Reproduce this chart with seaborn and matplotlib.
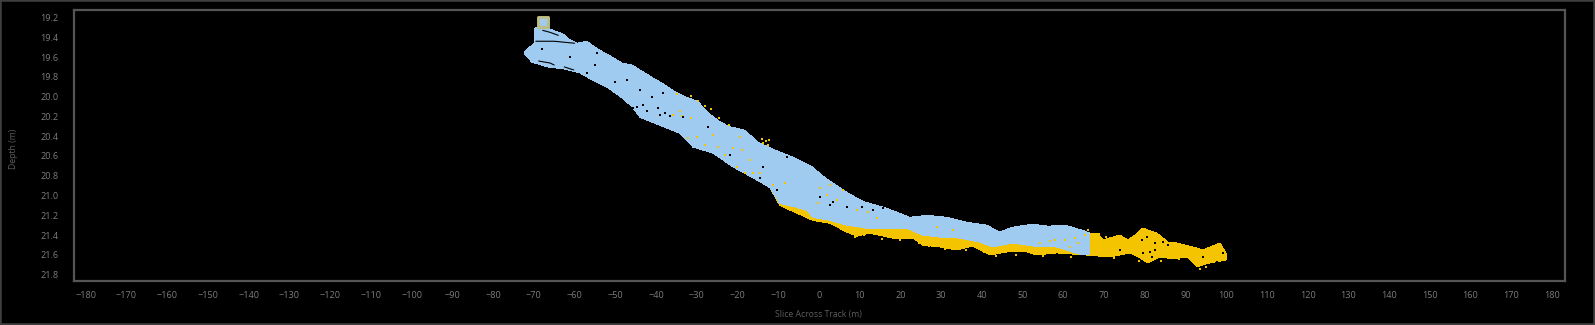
import matplotlib
matplotlib.use("Agg")
import matplotlib.pyplot as plt
from matplotlib.patches import Rectangle
import seaborn as sns

BLUE = "#A0CBF0"
YELLOW = "#F5C400"

# Upper and lower edges of the light-blue swath (metres across track, depth in metres)
blue_top_x = [-72.4, -71.0, -69.8, -69.7, -66.5, -62.7, -61.0, -59.4, -57.0, -54.3, -50.8, -48.4, -45.9, -43.2,
              -40.8, -38.3, -35.4, -32.9, -29.7, -27.3, -24.8, -22.3, -18.2, -15.0, -10.8, -6.6, -1.7,
              1.5, 6.9, 10.8, 16.7, 22.3, 26.5, 31.4, 36.3, 41.2, 44.4, 47.6, 52.5, 56.2, 60.4, 64.6, 66.5]
blue_top_d = [19.55, 19.50, 19.46, 19.30, 19.31, 19.37, 19.43, 19.46, 19.44, 19.52, 19.60, 19.66, 19.68, 19.75,
              19.81, 19.87, 19.95, 20.00, 20.05, 20.16, 20.24, 20.30, 20.34, 20.46, 20.54, 20.61, 20.71,
              20.82, 20.97, 21.06, 21.13, 21.22, 21.20, 21.22, 21.27, 21.30, 21.37, 21.32, 21.29, 21.31,
              21.30, 21.35, 21.38]
blue_bot_x = [-72.4, -70.5, -66.5, -62.4, -58.7, -55.7, -51.8, -48.4, -45.9, -43.9, -39.0, -34.1, -30.9,
              -26.0, -21.1, -16.2, -12.0, -9.6, -5.4, -2.9, -1.5, 2.7, 6.9, 11.8, 16.7, 21.6, 25.5, 29.7,
              34.6, 39.5, 42.7, 47.6, 52.5, 58.4, 64.6, 66.5]
blue_bot_d = [19.56, 19.65, 19.70, 19.72, 19.76, 19.83, 19.91, 20.01, 20.10, 20.21, 20.29, 20.37, 20.51,
              20.57, 20.71, 20.82, 20.92, 21.08, 21.12, 21.15, 21.22, 21.25, 21.30, 21.33, 21.33, 21.33,
              21.40, 21.42, 21.43, 21.47, 21.52, 21.48, 21.51, 21.52, 21.60, 21.60]

# Upper and lower edges of the yellow swath
yellow_top_x = [-12.0, 20.0, 40.0, 47.0, 60.0, 66.5, 68.5, 69.7, 73.9, 75.9, 77.6, 79.5, 83.0, 85.7, 87.9, 91.8,
                94.3, 98.5, 100.2]
yellow_top_d = [20.92, 21.25, 21.40, 21.45, 21.40, 21.38, 21.38, 21.45, 21.40, 21.45, 21.40, 21.33, 21.38, 21.47,
                21.48, 21.52, 21.55, 21.48, 21.60]
yellow_bot_x = [-9.6, -1.5, 2.7, 6.9, 9.3, 12.5, 18.2, 23.1, 25.5, 29.7, 33.9, 37.8, 42.0, 46.2, 51.1, 53.5,
                58.4, 65.3, 71.4, 76.4, 78.8, 80.8, 83.7, 86.9, 90.4, 92.8, 96.0, 100.2]
yellow_bot_d = [21.10, 21.25, 21.28, 21.37, 21.41, 21.38, 21.43, 21.43, 21.50, 21.52, 21.55, 21.51, 21.60,
                21.57, 21.57, 21.60, 21.58, 21.60, 21.62, 21.58, 21.63, 21.68, 21.62, 21.64, 21.62, 21.72,
                21.68, 21.65]

# Individual yellow soundings showing through the blue swath or scattered off the band
speck_y_x = [-34.1, -33.7, -35.8, -31.3, -30.0, -32.1, -26.0, -28.0, -24.8, -23.1, -21.1, -19.0, -20.2, -18.2,
             -16.2, -14.5, -16.9, -11.3, -8.3, -19.4, -13.7, -12.5, -34.9, -31.5, -29.7, -28.0, -26.5, -24.5,
             -22.0, -14.0, -13.0, -12.3, 0.2, 2.0, 4.4, 9.3, 12.0, 14.2, 29.0, 32.9, -0.2, 2.7, 5.9, 62.9, 63.6,
             61.6, 60.4, 54.3, 65.3, 66.0, 58.0, 56.7,
             8.8, 11.0, 15.5, 20.0, 24.5, 27.0, 31.0, 36.0, 40.5, 43.5, 48.5, 55.0, 62.0, 67.8, 68.8, 70.5,
             72.5, 78.5, 84.0, 88.5, 93.5, 95.0]
speck_y_d = [20.15, 20.20, 20.19, 20.22, 20.41, 20.42, 20.39, 20.49, 20.51, 20.59, 20.52, 20.54, 20.71, 20.77,
             20.77, 20.77, 20.64, 20.89, 20.87, 20.41, 20.47, 20.49, 19.97, 19.99, 20.04, 20.09, 20.13, 20.22,
             20.29, 20.43, 20.45, 20.44, 20.92, 20.99, 21.05, 21.15, 21.17, 21.23, 21.32, 21.35, 21.08, 20.89,
             20.94, 21.43, 21.48, 21.52, 21.45, 21.48, 21.40, 21.35, 21.45, 21.46,
             21.42, 21.40, 21.44, 21.45, 21.48, 21.51, 21.54, 21.55, 21.57, 21.61, 21.60, 21.61, 21.62, 21.40,
             21.39, 21.42, 21.63, 21.66, 21.66, 21.64, 21.74, 21.72]

# Holes in the swath
speck_k_x = [-45.7, -44.7, -43.2, -42.2, -39.5, -39.0, -37.8, -36.6, -41.0, -38.3, -43.9, -47.1, -50.1, -57.0,
             -55.0, -54.5, -61.1, -68.0, -27.3, -33.4, -13.7, -10.3, -21.9, -14.5, -7.9, 3.4, 6.9, 13.3, 15.7,
             10.6, 0.2, 2.7, 79.5, 81.3, 82.5, 80.5, 82.5, 84.5, 85.7, 79.3, 81.8, 94.3, 99.2, 97.7, 73.9]
speck_k_d = [20.11, 20.10, 20.08, 20.15, 20.11, 20.19, 20.17, 20.20, 20.00, 19.96, 19.93, 19.83, 19.85, 19.76,
             19.68, 19.56, 19.60, 19.52, 20.31, 20.21, 20.71, 20.94, 20.59, 20.82, 20.61, 21.07, 21.12, 21.15,
             21.13, 21.12, 21.01, 21.10, 21.58, 21.57, 21.55, 21.42, 21.48, 21.47, 21.50, 21.45, 21.62, 21.62,
             21.58, 21.67, 21.55]

# Thin dark slits near the outer end of the swath
slit_a_x = [-67.8, -66.0, -64.0]
slit_a_d = [19.33, 19.35, 19.38]
slit_b_x = [-69.5, -65.0, -60.0]
slit_b_d = [19.44, 19.44, 19.46]
slit_c_x = [-68.8, -66.0, -65.0]
slit_c_d = [19.64, 19.66, 19.68]
slit_d_x = [-62.5, -60.2]
slit_d_d = [19.70, 19.73]

# Selected sounding
selected_x = [-67.8]
selected_d = [19.245]

x_ticks = list(range(-180, 181, 10))
y_ticks = [19.2, 19.4, 19.6, 19.8, 20.0, 20.2, 20.4, 20.6, 20.8, 21.0, 21.2, 21.4, 21.6, 21.8]
x_label = "Slice Across Track (m)"
y_label = "Depth (m)"

sns.set_theme(style="dark")
plt.rcParams["font.family"] = ["Open Sans", "DejaVu Sans"]

W, H = 1595, 325
fig = plt.figure(figsize=(W / 100, H / 100), dpi=100, facecolor="black")
ax = fig.add_axes([74 / W, 1 - 281 / H, (1565 - 74) / W, (281 - 10) / H], facecolor="black")

ax.fill(yellow_top_x + yellow_bot_x[::-1], yellow_top_d + yellow_bot_d[::-1], color=YELLOW, lw=0, antialiased=False)
ax.fill(blue_top_x + blue_bot_x[::-1], blue_top_d + blue_bot_d[::-1], color=BLUE, lw=0, antialiased=False)

sns.scatterplot(x=speck_y_x, y=speck_y_d, ax=ax, marker="s", s=2.2, color=YELLOW, linewidth=0, zorder=3)
sns.scatterplot(x=speck_k_x, y=speck_k_d, ax=ax, marker="s", s=1.2, color="black", linewidth=0, zorder=3)
for sx, sd in [(slit_a_x, slit_a_d), (slit_b_x, slit_b_d), (slit_c_x, slit_c_d), (slit_d_x, slit_d_d)]:
    sns.lineplot(x=sx, y=sd, ax=ax, color="black", linewidth=0.8, sort=False, errorbar=None, zorder=3)
sns.scatterplot(x=selected_x, y=selected_d, ax=ax, marker="s", s=42, color=BLUE, edgecolor="#BDBE85",
                linewidth=2.1, zorder=4)

ax.set_xlim(-182.9, 183.2)
ax.set_ylim(21.864, 19.124)
ax.set_xticks(x_ticks)
ax.set_yticks(y_ticks)
ax.set_yticklabels([f"{v:.1f}" for v in y_ticks])
ax.grid(False)
ax.tick_params(axis="both", length=0, labelsize=6.6, labelcolor="#7C7C7C", pad=0)
ax.tick_params(axis="x", pad=7)
ax.tick_params(axis="y", pad=11)
for s in ax.spines.values():
    s.set_visible(True)
    s.set_color("#555555")
    s.set_linewidth(1.6)

fig.text(818 / W, 1 - 314.5 / H, x_label, ha="center", va="center", fontsize=6.2, color="#5E5E5E")
fig.text(13.5 / W, 1 - 149 / H, y_label, ha="center", va="center", rotation=90, fontsize=6.2, color="#5E5E5E")

fig.add_artist(Rectangle((0, 0), 1, 1, transform=fig.transFigure, fill=False, edgecolor="#3E3E3E", linewidth=2.6))

fig.savefig("out.png", dpi=100, facecolor="black")
